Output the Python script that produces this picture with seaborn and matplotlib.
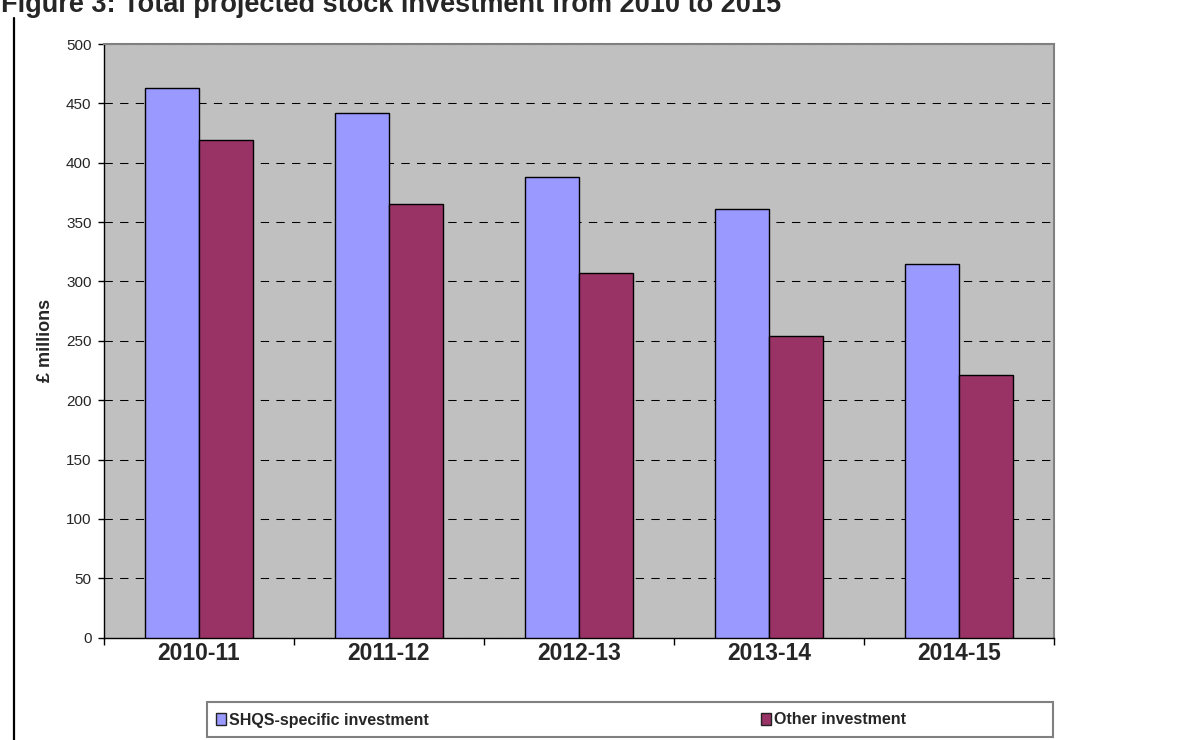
import matplotlib
matplotlib.use("Agg")
import matplotlib.pyplot as plt
from matplotlib.patches import Patch, Rectangle
from matplotlib.lines import Line2D
from matplotlib.ticker import FixedLocator
import pandas as pd
import seaborn as sns

# Projected investment by financial year (£ millions)
periods = ["2010-11", "2011-12", "2012-13", "2013-14", "2014-15"]
shqs_investment = [463, 442, 388, 361, 315]
other_investment = [419, 365, 307, 254, 221]
series_names = ["SHQS-specific investment", "Other investment"]
series_colors = ["#9999FF", "#993366"]

df = pd.DataFrame({
    "period": periods * 2,
    "value": shqs_investment + other_investment,
    "series": [series_names[0]] * len(periods) + [series_names[1]] * len(periods),
})

sns.set_style("white")
plt.rcParams["font.family"] = ["Liberation Sans", "DejaVu Sans"]

W, H = 1202, 740
fig = plt.figure(figsize=(W / 100, H / 100), dpi=100)
ax = fig.add_axes([104 / W, 1 - 637.7 / H, (1054 - 104) / W, (637.7 - 44) / H])
ax.set_facecolor("#C0C0C0")

sns.barplot(data=df, x="period", y="value", hue="series", palette=series_colors,
            width=0.568, gap=0, saturation=1, edgecolor="black", linewidth=1.0,
            legend=False, ax=ax, zorder=3)

ax.set_ylim(0, 500)
ax.set_xlim(-0.5, len(periods) - 0.5)
ax.set_yticks(range(0, 501, 50))
ax.set_yticklabels([str(v) for v in range(0, 501, 50)], fontsize=11)

# dashed horizontal gridlines
ax.yaxis.grid(True, color="black", linestyle=(0, (8, 7)), linewidth=0.75, zorder=1)
ax.xaxis.grid(False)
ax.set_axisbelow(True)

# category labels at the centres, tick marks at the boundaries
ax.set_xticks(range(len(periods)))
ax.set_xticklabels(periods, fontsize=16.5, fontweight="bold")
ax.xaxis.set_minor_locator(FixedLocator([i - 0.5 for i in range(len(periods) + 1)]))
ax.tick_params(axis="x", which="major", length=0, pad=3)
ax.tick_params(axis="x", which="minor", length=5, width=1, color="black", direction="out", bottom=True)
ax.tick_params(axis="y", which="major", length=4, width=1, color="black", direction="out", pad=5, left=True)

ax.set_xlabel("")
ax.set_ylabel("£ millions", fontsize=13, fontweight="bold", labelpad=9)

for side in ["top", "right"]:
    ax.spines[side].set_color("#808080")
    ax.spines[side].set_linewidth(1.5)
for side in ["left", "bottom"]:
    ax.spines[side].set_color("black")
    ax.spines[side].set_linewidth(1.0)
    ax.spines[side].set_visible(True)

# legend box below the plot
fig.patches.append(Rectangle((207 / W, 1 - 737 / H), (1053 - 207) / W, 35 / H,
                             transform=fig.transFigure, facecolor="white",
                             edgecolor="#808080", linewidth=1.5, zorder=0))
handles = [Patch(facecolor=c, edgecolor="#222222", linewidth=1.0) for c in series_colors]
fig.legend(handles, series_names, loc="center left", bbox_to_anchor=(216 / W, 1 - 720 / H),
           ncol=2, frameon=False, borderpad=0, borderaxespad=0,
           handlelength=0.65, handleheight=0.75, handletextpad=0.15,
           columnspacing=20.8, prop={"size": 11.5, "weight": "bold"})

# title and left rule
fig.text(1 / W, 1 - 12 / H, "Figure 3: Total projected stock investment from 2010 to 2015",
         fontsize=19.5, fontweight="bold", ha="left", va="baseline")
fig.add_artist(Line2D([13.5 / W, 13.5 / W], [0, 1 - 18 / H], transform=fig.transFigure,
                      color="black", linewidth=1.6))

fig.savefig("out.png", dpi=100)
